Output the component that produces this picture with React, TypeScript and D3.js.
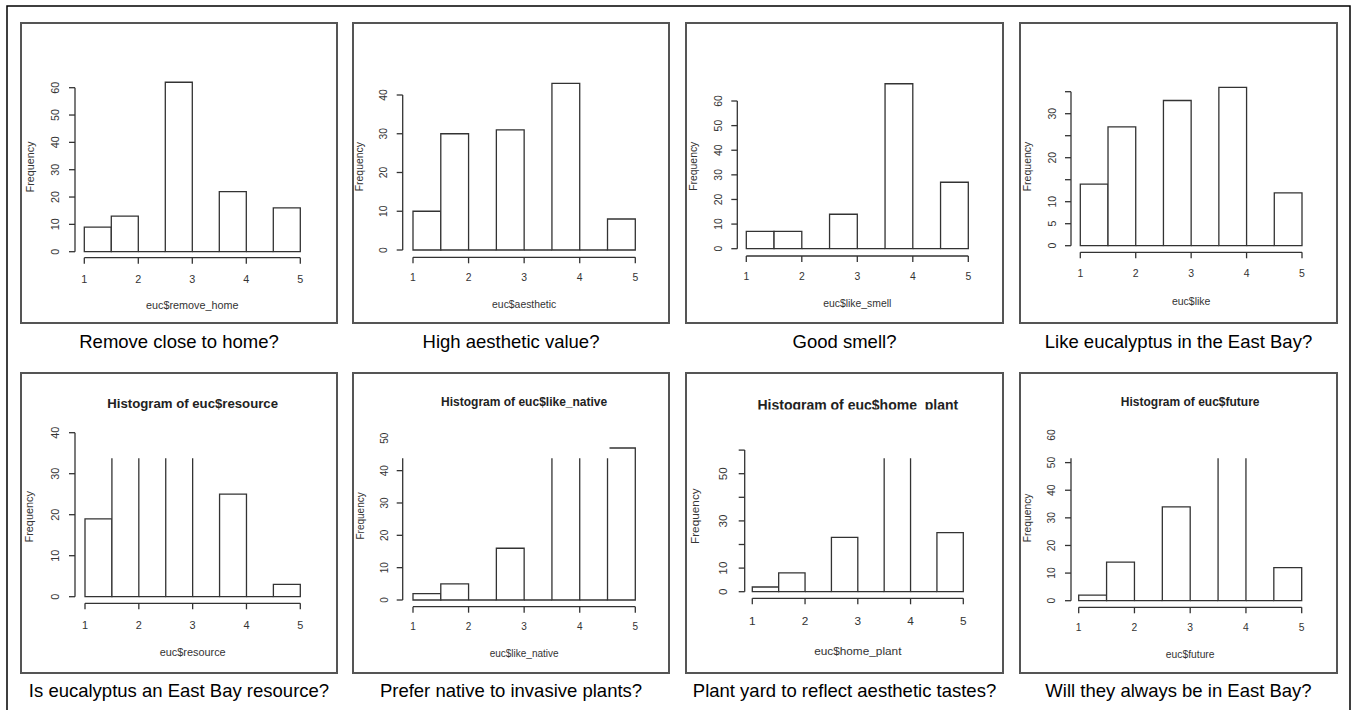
import React from "react";
import * as d3 from "d3";

// ---------- data ----------
const binStarts = [1, 1.5, 2, 2.5, 3, 3.5, 4, 4.5];
const binWidth = 0.5;
const xTicks = [1, 2, 3, 4, 5];

const removeHome = [9, 13, 0, 62, 0, 22, 0, 16];
const aesthetic = [10, 30, 0, 31, 0, 43, 0, 8];
const likeSmell = [7, 7, 0, 14, 0, 67, 0, 27];
const likeEuc = [14, 27, 0, 33, 0, 36, 0, 12];
const resource = [19, 36, 0, 39, 0, 25, 0, 3];
const likeNative = [2, 5, 0, 16, 0, 52, 0, 47];
const homePlant = [2, 8, 0, 23, 0, 64, 0, 25];
const future = [2, 14, 0, 34, 0, 60, 0, 12];

const seriesCounts = [removeHome, aesthetic, likeSmell, likeEuc, resource, likeNative, homePlant, future];
const xLabels = [
  "euc$remove_home", "euc$aesthetic", "euc$like_smell", "euc$like",
  "euc$resource", "euc$like_native", "euc$home_plant", "euc$future",
];
const mainTitles = [
  "", "", "", "",
  "Histogram of euc$resource", "Histogram of euc$like_native",
  "Histogram of euc$home_plant", "Histogram of euc$future",
];
const captions = [
  "Remove close to home?", "High aesthetic value?", "Good smell?", "Like eucalyptus in the East Bay?",
  "Is eucalyptus an East Bay resource?", "Prefer native to invasive plants?",
  "Plant yard to reflect aesthetic tastes?", "Will they always be in East Bay?",
];
const yTickValues = [
  [0, 10, 20, 30, 40, 50, 60],
  [0, 10, 20, 30, 40],
  [0, 10, 20, 30, 40, 50, 60],
  [0, 5, 10, 15, 20, 25, 30, 35],
  [0, 10, 20, 30, 40],
  [0, 10, 20, 30, 40, 50],
  [0, 10, 20, 30, 40, 50, 60],
  [0, 10, 20, 30, 40, 50, 60],
];
const yTickLabels = [
  [0, 10, 20, 30, 40, 50, 60],
  [0, 10, 20, 30, 40],
  [0, 10, 20, 30, 40, 50, 60],
  [0, 5, 10, 20, 30],
  [0, 10, 20, 30, 40],
  [0, 10, 20, 30, 40, 50],
  [0, 10, 30, 50],
  [0, 10, 20, 30, 40, 50, 60],
];

// ---------- layout (pixel geometry of each pasted panel) ----------
type Layout = {
  bx: number; by: number; bw: number; bh: number;
  x1: number; x5: number; y0: number; refVal: number; refPx: number;
  yAxisX: number; xAxisY: number; fs: number;
  titleY?: number; titleFs?: number; titleClipY?: number;
  cutY?: number; cutXMax?: number; axisCut?: boolean; xlabK: number;
};
const layouts: Layout[] = [
  { bx: 21, by: 23, bw: 316, bh: 300, x1: 84.3, x5: 300.3, y0: 251.7, refVal: 60, refPx: 87.7, yAxisX: 75, xAxisY: 257.7, fs: 10.8, xlabK: 4.35 },
  { bx: 353, by: 23, bw: 316, bh: 300, x1: 413, x5: 635.3, y0: 250, refVal: 40, refPx: 95, yAxisX: 402.7, xAxisY: 257.3, fs: 10.4, xlabK: 4.5 },
  { bx: 686, by: 23, bw: 317, bh: 300, x1: 746.3, x5: 968.3, y0: 248.7, refVal: 60, refPx: 101, yAxisX: 737.3, xAxisY: 256, fs: 10.4, xlabK: 4.6 },
  { bx: 1020, by: 23, bw: 317, bh: 300, x1: 1080.3, x5: 1302, y0: 245.7, refVal: 30, refPx: 113.7, yAxisX: 1071, xAxisY: 252.3, fs: 10.5, xlabK: 4.65 },
  { bx: 21, by: 373, bw: 316, bh: 300, x1: 85, x5: 300.3, y0: 596.7, refVal: 40, refPx: 432.7, yAxisX: 75, xAxisY: 603.3, fs: 10.9, titleY: 403, titleFs: 13.2, cutY: 458.3, cutXMax: 2000, xlabK: 4.5 },
  { bx: 353, by: 373, bw: 316, bh: 300, x1: 413, x5: 635.3, y0: 600, refVal: 50, refPx: 438.3, yAxisX: 402.7, xAxisY: 606.7, fs: 10, titleY: 401.7, titleFs: 12, cutY: 458.3, cutXMax: 609.5, axisCut: true, xlabK: 4.7 },
  { bx: 686, by: 373, bw: 317, bh: 300, x1: 752.3, x5: 963.3, y0: 591.7, refVal: 50, refPx: 473.7, yAxisX: 744.7, xAxisY: 598.3, fs: 11.8, titleY: 405, titleFs: 14, titleClipY: 409.5, cutY: 458.3, cutXMax: 2000, xlabK: 4.5 },
  { bx: 1020, by: 373, bw: 317, bh: 300, x1: 1078.7, x5: 1301.7, y0: 600.7, refVal: 60, refPx: 435, yAxisX: 1071, xAxisY: 607.3, fs: 10.3, titleY: 402, titleFs: 12, cutY: 458.3, cutXMax: 2000, axisCut: true, xlabK: 4.6 },
];

const FONT = "'Liberation Sans', Arial, Helvetica, sans-serif";
const INK = "#333";

function Panel({ idx }: { idx: number }) {
  const L = layouts[idx];
  const counts = seriesCounts[idx];
  const x = d3.scaleLinear().domain([1, 5]).range([L.x1, L.x5]);
  const y = d3.scaleLinear().domain([0, L.refVal]).range([L.y0, L.refPx]);
  const maxC = d3.max(counts) as number;
  const ylabY = (y(-0.04 * maxC) + y(1.04 * maxC)) / 2;
  const ticks = yTickValues[idx];
  const labs = yTickLabels[idx];
  const topTick = d3.max(ticks) as number;
  const axisTop = L.axisCut && L.cutY !== undefined ? Math.max(y(topTick), L.cutY) : y(topTick);
  const tl = 6;
  const clipId = `barclip${idx}`;
  const titleClipId = `titleclip${idx}`;

  const barPaths = binStarts.map((s, i) => {
    const c = counts[i];
    const xa = x(s), xb = x(s + binWidth), yb = y(0), yt = y(c);
    return `M${xa},${yb}V${yt}H${xb}V${yb}Z`;
  });

  return (
    <g fontFamily={FONT}>
      <defs>
        {L.cutY !== undefined && (
          <clipPath id={clipId}>
            <rect x={L.bx} y={L.cutY} width={L.bw} height={L.by + L.bh - L.cutY} />
            <rect x={L.cutXMax} y={L.by} width={Math.max(0, L.bx + L.bw - (L.cutXMax as number))} height={L.bh} />
          </clipPath>
        )}
        {L.titleClipY !== undefined && (
          <clipPath id={titleClipId}>
            <rect x={L.bx} y={L.by} width={L.bw} height={L.titleClipY - L.by} />
          </clipPath>
        )}
      </defs>
      <rect x={L.bx} y={L.by} width={L.bw} height={L.bh} fill="#fff" stroke="#555" strokeWidth={2} />
      {mainTitles[idx] && (
        <text x={x(3)} y={L.titleY} fontSize={L.titleFs} fontWeight="bold" fill="#222"
          textAnchor="middle" dominantBaseline="central"
          clipPath={L.titleClipY !== undefined ? `url(#${titleClipId})` : undefined}>{mainTitles[idx]}</text>
      )}
      <g clipPath={L.cutY !== undefined ? `url(#${clipId})` : undefined}>
        {barPaths.map((d, i) => (
          <path key={i} d={d} fill="#fff" stroke={INK} strokeWidth={1.3} />
        ))}
      </g>
      {/* x axis */}
      <line x1={x(1)} x2={x(5)} y1={L.xAxisY} y2={L.xAxisY} stroke={INK} strokeWidth={1.3} />
      {xTicks.map((t) => (
        <g key={t}>
          <line x1={x(t)} x2={x(t)} y1={L.xAxisY} y2={L.xAxisY + tl} stroke={INK} strokeWidth={1.3} />
          <text x={x(t)} y={L.xAxisY + 1.95 * L.fs} fontSize={L.fs} fill="#333"
            textAnchor="middle" dominantBaseline="central">{t}</text>
        </g>
      ))}
      {/* y axis */}
      <line x1={L.yAxisX} x2={L.yAxisX} y1={y(0)} y2={axisTop} stroke={INK} strokeWidth={1.3} />
      {ticks.map((t) => {
        const hidden = L.axisCut && L.cutY !== undefined && y(t) < L.cutY - 1;
        return hidden ? null : (
          <line key={t} x1={L.yAxisX - tl} x2={L.yAxisX} y1={y(t)} y2={y(t)} stroke={INK} strokeWidth={1.3} />
        );
      })}
      {labs.map((t) => (
        <text key={t} transform={`translate(${L.yAxisX - 1.85 * L.fs},${y(t)}) rotate(-90)`}
          fontSize={L.fs} fill="#333" textAnchor="middle" dominantBaseline="central">{t}</text>
      ))}
      <text transform={`translate(${L.yAxisX - 4.2 * L.fs},${ylabY}) rotate(-90)`}
        fontSize={L.fs} fill="#333" textAnchor="middle" dominantBaseline="central">Frequency</text>
      <text x={x(3)} y={L.xAxisY + L.xlabK * L.fs} fontSize={L.fs} fill="#333"
        textAnchor="middle" dominantBaseline="central">{xLabels[idx]}</text>
      <text x={L.bx + L.bw / 2} y={idx < 4 ? 341 : 690} fontSize={18.5} fill="#000"
        textAnchor="middle" dominantBaseline="central">{captions[idx]}</text>
    </g>
  );
}

export default function App() {
  return (
    <svg width={1353} height={710} style={{ position: "absolute", left: 0, top: 0, background: "#fff" }}>
      <rect x={0} y={0} width={1353} height={710} fill="#fff" />
      <path d="M7,712V6H1350V712" fill="none" stroke="#000" strokeWidth={1.5} />
      {layouts.map((_, i) => (
        <Panel key={i} idx={i} />
      ))}
    </svg>
  );
}
